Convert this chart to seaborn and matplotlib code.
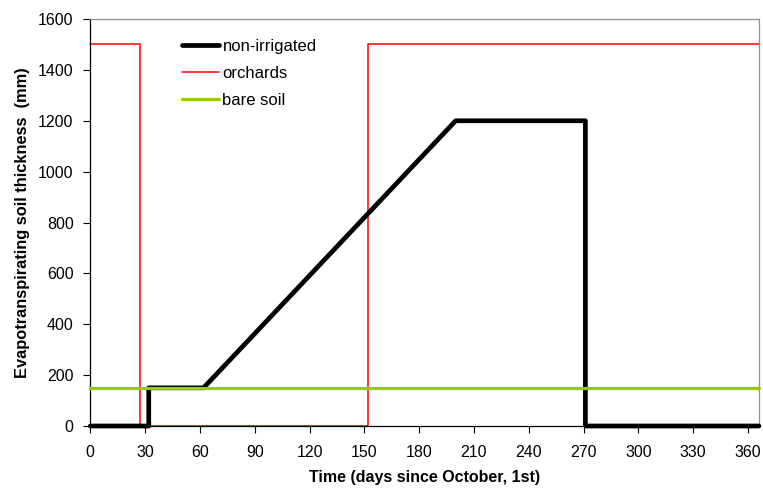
import matplotlib
matplotlib.use("Agg")
import matplotlib.pyplot as plt
import seaborn as sns
import pandas as pd

sns.set_theme(style="white")
plt.rcParams["font.family"] = ["Liberation Sans", "DejaVu Sans"]
plt.rcParams["text.color"] = "black"
plt.rcParams["axes.labelcolor"] = "black"

# Evapotranspirating soil thickness (mm) by day since October 1st
nonirr_days = [0, 32, 32, 62, 200, 271, 271, 366]
nonirr_mm = [0, 0, 150, 150, 1200, 1200, 0, 0]

orch_days = [0, 27, 27, 152, 152, 366]
orch_mm = [1500, 1500, 0, 0, 1500, 1500]

bare_days = [0, 366]
bare_mm = [150, 150]

x_ticks = list(range(0, 361, 30))
y_ticks = list(range(0, 1601, 200))

frames = [
    pd.DataFrame({"day": nonirr_days, "mm": nonirr_mm, "series": "non-irrigated"}),
    pd.DataFrame({"day": orch_days, "mm": orch_mm, "series": "orchards"}),
    pd.DataFrame({"day": bare_days, "mm": bare_mm, "series": "bare soil"}),
]
styles = {
    "non-irrigated": dict(color="black", lw=3.4, zorder=3),
    "orchards": dict(color="#ff0000", lw=1.1, zorder=2),
    "bare soil": dict(color="#99cc00", lw=2.3, zorder=4),
}

fig = plt.figure(figsize=(7.63, 4.90), dpi=100)
ax = fig.add_axes([0.1183, 0.1306, 0.8764, 0.8306])

for df in frames:
    name = df["series"].iloc[0]
    st = styles[name]
    sns.lineplot(data=df, x="day", y="mm", sort=False, ax=ax, label=name,
                 color=st["color"], linewidth=st["lw"], zorder=st["zorder"],
                 clip_on=False, estimator=None)

ax.set_xlim(0, 366)
ax.set_ylim(0, 1600)
ax.set_xticks(x_ticks)
ax.set_yticks(y_ticks)
ax.tick_params(axis="both", which="major", labelsize=11.5, length=5, width=0.8,
               direction="out", bottom=True, left=True, colors="black")
ax.tick_params(axis="x", pad=9)
ax.tick_params(axis="y", pad=7)

for side in ("left", "bottom"):
    ax.spines[side].set_color("black")
    ax.spines[side].set_linewidth(0.9)
for side in ("top", "right"):
    ax.spines[side].set_color("#909090")
    ax.spines[side].set_linewidth(0.9)

ax.set_xlabel("Time (days since October, 1st)", fontsize=11.5, fontweight="bold",
              labelpad=7, color="black")
ax.set_ylabel("Evapotranspirating soil thickness  (mm)", fontsize=11.8, fontweight="bold",
              labelpad=6, color="black")

leg = ax.legend(loc="upper left", bbox_to_anchor=(0.1155, 0.988), frameon=False,
                fontsize=12, handlelength=2.2, handletextpad=0.2, labelspacing=0.72,
                labelcolor="black")

fig.savefig("out.png", dpi=100)
